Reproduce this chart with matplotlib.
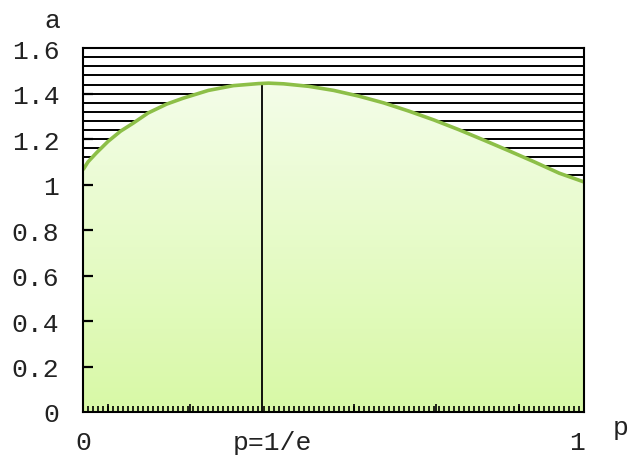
import numpy as np
import matplotlib
matplotlib.use('Agg')
import matplotlib.pyplot as plt
from matplotlib.colors import LinearSegmentedColormap

# curve a(p)
p_vals = [0, 0.01, 0.027, 0.05, 0.075, 0.1, 0.13, 0.167, 0.2, 0.25, 0.3, 0.35,
          0.37, 0.4, 0.45, 0.5, 0.55, 0.6, 0.65, 0.7, 0.75, 0.8, 0.85, 0.9, 0.95, 1.0]
a_vals = [1.065, 1.10, 1.14, 1.19, 1.235, 1.27, 1.315, 1.354, 1.38, 1.414, 1.435, 1.444,
          1.446, 1.443, 1.432, 1.414, 1.389, 1.359, 1.323, 1.284, 1.241, 1.195, 1.148,
          1.100, 1.050, 1.011]
p_mark = 0.357          # where the p=1/e line sits
a_mark = 1.445
y_ticks = [0, 0.2, 0.4, 0.6, 0.8, 1, 1.2, 1.4, 1.6]
y_labels = ['0', '0.2', '0.4', '0.6', '0.8', '1', '1.2', '1.4', '1.6']
x_labels = ['0', 'p=1/e', '1']
x_label_pos = [0.0, 0.377, 0.985]

plt.rcParams['font.family'] = ['Liberation Mono', 'DejaVu Sans Mono']
FS = 19

fig = plt.figure(figsize=(6.29, 4.56), dpi=100)
ax = fig.add_axes([0.132, 0.0943, 0.797, 0.798])

# horizontal hatch lines every 0.04, hidden under the fill
for y in np.arange(0.04, 1.6, 0.04):
    ax.axhline(y, color='black', lw=1.4, zorder=1)

# gradient fill under the curve
px = np.array(p_vals)
ay = np.array(a_vals)
poly = ax.fill_between(px, 0, ay, color='none', lw=0, zorder=2)
cmap = LinearSegmentedColormap.from_list('g', ['#d8f9a6', '#f4fde9'])
grad = np.linspace(0, 1, 256).reshape(-1, 1)
img = ax.imshow(grad, cmap=cmap, extent=[0, 1, 0, 1.45], origin='lower',
                aspect='auto', zorder=2)
img.set_clip_path(poly.get_paths()[0], transform=ax.transData)
ax.set_xlim(0, 1)
ax.set_ylim(0, 1.6)

ax.plot(px, ay, color='#8dbf48', lw=2.6, zorder=4, solid_capstyle='butt')
ax.plot([p_mark, p_mark], [0, a_mark], color='black', lw=1.3, zorder=3)

for s in ax.spines.values():
    s.set_linewidth(1.5)
    s.set_zorder(5)
ax.xaxis.set_zorder(5)
ax.yaxis.set_zorder(5)

# y ticks: labels from the axis, inward marks drawn on top of the fill
ax.set_yticks(y_ticks)
ax.set_yticklabels(y_labels, fontsize=FS, color='#222222')
ax.tick_params(axis='y', length=0, pad=17)
ax.hlines(y_ticks[1:-1], 0, 0.02, color='black', lw=1.6, zorder=6,
          transform=ax.get_yaxis_transform())

ax.set_xticks([0.049, 0.213, 0.541, 0.705, 0.869])
ax.set_xticklabels([])
ax.set_xticks(np.arange(0.01, 1.0, 0.01), minor=True)
ax.tick_params(axis='x', which='major', direction='in', length=6, width=1.2)
ax.tick_params(axis='x', which='minor', direction='in', length=4.3, width=1.2)

for lab, xp in zip(x_labels, x_label_pos):
    ax.text(xp, -0.082, lab, ha='center', va='center', fontsize=FS, color='#222222',
            transform=ax.get_xaxis_transform())
fig.text(52 / 629, 1 - 21 / 456, 'a', ha='center', va='center', fontsize=FS, color='#222222')
fig.text(621 / 629, 1 - 428 / 456, 'p', ha='center', va='center', fontsize=FS, color='#222222')

fig.savefig('out.png', dpi=100)
